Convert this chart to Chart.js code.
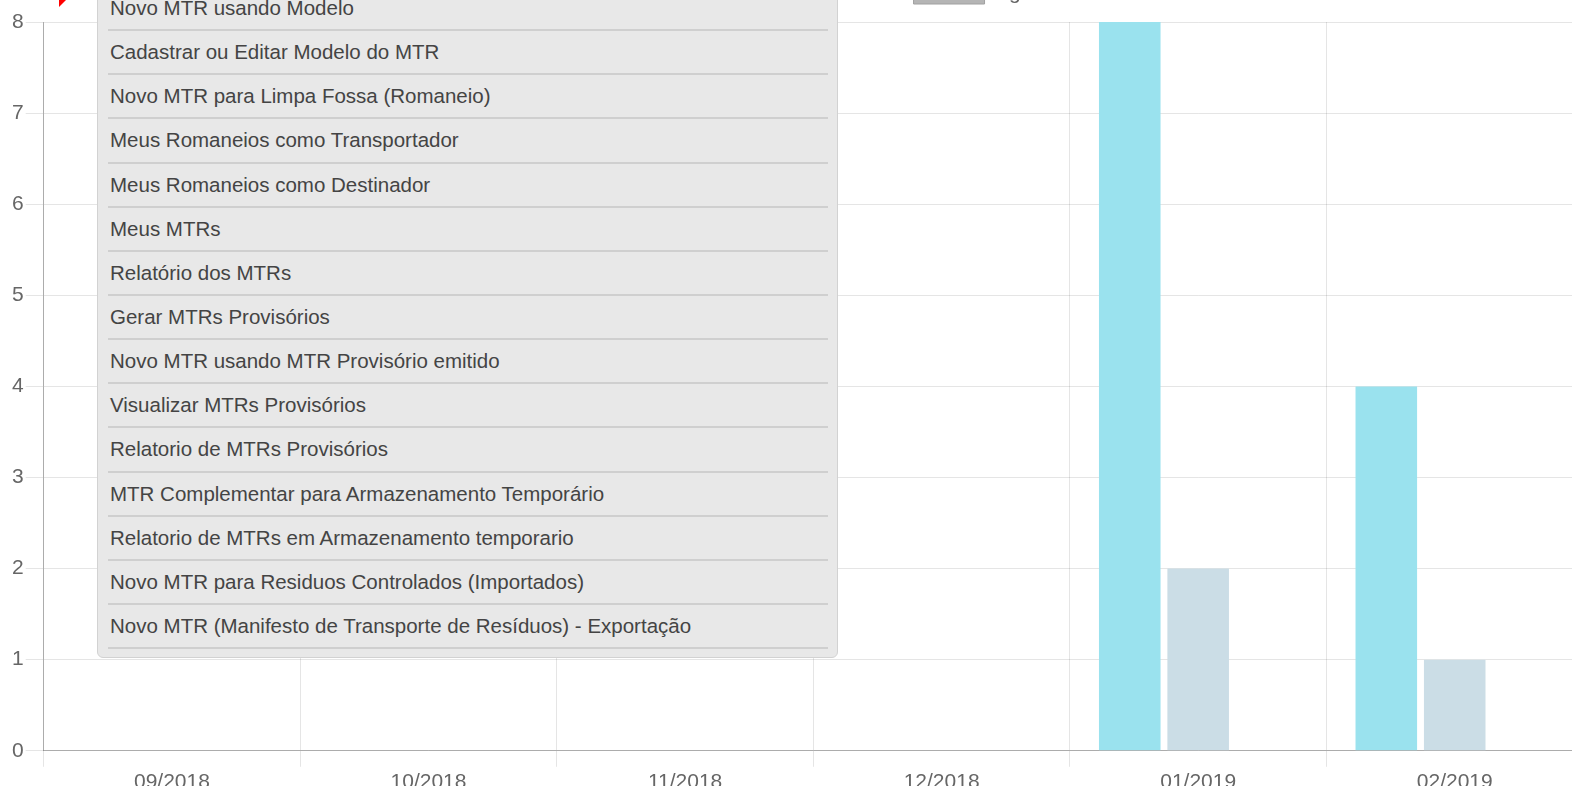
<!DOCTYPE html>
<html>
<head>
<meta charset="utf-8">
<script src="https://cdn.jsdelivr.net/npm/chart.js@4/dist/chart.umd.min.js"></script>
<style>
  html, body { margin: 0; padding: 0; background: #fff; overflow: hidden; width: 1572px; height: 786px; }
  #wrap { position: absolute; left: 0; top: -35px; width: 1600px; height: 833px; }
  #menu {
    position: absolute; left: 97px; top: -40px; width: 741px;
    background: #e8e8e8; border: 1px solid #d2d2d2; border-radius: 6px;
    box-sizing: border-box; padding: 26px 9px 8px 10px; margin: 0;
    font-family: "Liberation Sans", Arial, sans-serif; font-size: 20.5px; color: #444;
    list-style: none;
  }
  #menu li { height: 42.15px; line-height: 42px; border-bottom: 2px solid #cfcfcf; padding-left: 2px; white-space: nowrap; }
  #redmark { position: absolute; left: 59px; top: 0; width: 0; height: 0;
    border-top: 7px solid #f00; border-right: 7px solid transparent; }
</style>
</head>
<body>
<div id="wrap"><canvas id="c" width="1600" height="833"></canvas></div>
<div id="redmark"></div>
<ul id="menu"></ul>
<script>
const categories = ["09/2018", "10/2018", "11/2018", "12/2018", "01/2019", "02/2019"];
const seriesNames = ["MTRs Recebidos", "MTRs Armazenados", "Aguardando recebimento"];
const recebidos = [0, 0, 0, 0, 8, 4];
const armazenados = [0, 0, 0, 0, 2, 1];
const aguardando = [0, 0, 0, 0, 0, 0];
const yTicks = [0, 1, 2, 3, 4, 5, 6, 7, 8];
const menuItems = [
  "Novo MTR usando Modelo",
  "Cadastrar ou Editar Modelo do MTR",
  "Novo MTR para Limpa Fossa (Romaneio)",
  "Meus Romaneios como Transportador",
  "Meus Romaneios como Destinador",
  "Meus MTRs",
  "Relatório dos MTRs",
  "Gerar MTRs Provisórios",
  "Novo MTR usando MTR Provisório emitido",
  "Visualizar MTRs Provisórios",
  "Relatorio de MTRs Provisórios",
  "MTR Complementar para Armazenamento Temporário",
  "Relatorio de MTRs em Armazenamento temporario",
  "Novo MTR para Residuos Controlados (Importados)",
  "Novo MTR (Manifesto de Transporte de Resíduos) - Exportação"
];

const menu = document.getElementById('menu');
menuItems.forEach(t => { const li = document.createElement('li'); li.textContent = t; menu.appendChild(li); });

// add extra space below the legend row
try {
  const LegendCls = Chart.Legend && Chart.Legend._element;
  if (LegendCls) {
    const origFit = LegendCls.prototype.fit;
    LegendCls.prototype.fit = function () { origFit.call(this); this.height += 8; };
  }
} catch (e) {}

Chart.defaults.font.family = "'Liberation Sans', Arial, Helvetica, sans-serif";
Chart.defaults.font.size = 21;
Chart.defaults.color = '#666';

const legendBorders = [null, null, '#a0a0a0'];

new Chart(document.getElementById('c'), {
  type: 'bar',
  data: {
    labels: categories,
    datasets: [
      { label: seriesNames[0], data: recebidos, backgroundColor: '#9ae2ee', borderWidth: 0 },
      { label: seriesNames[1], data: armazenados, backgroundColor: '#cbdde6', borderWidth: 0 },
      { label: seriesNames[2], data: aguardando, backgroundColor: '#b5b5b5', borderWidth: 0 }
    ]
  },
  options: {
    responsive: false,
    animation: false,
    layout: { padding: { left: 10, right: 17, top: 0, bottom: 0 } },
    plugins: {
      legend: {
        position: 'top',
        labels: {
          boxWidth: 71, boxHeight: 21, padding: 18,
          generateLabels: (chart) => {
            const items = Chart.defaults.plugins.legend.labels.generateLabels(chart);
            items.forEach((it, i) => {
              if (legendBorders[i]) { it.strokeStyle = legendBorders[i]; it.lineWidth = 1; }
            });
            return items;
          }
        }
      },
      tooltip: { enabled: false }
    },
    datasets: { bar: { categoryPercentage: 0.8, barPercentage: 0.9 } },
    scales: {
      x: {
        grid: { color: 'rgba(0,0,0,0.1)', tickLength: 16, offset: true },
        border: { color: 'rgba(0,0,0,0.25)' },
        ticks: { padding: 3, color: '#666' }
      },
      y: {
        min: 0, max: 8,
        afterBuildTicks: s => { s.ticks = yTicks.map(v => ({ value: v })); },
        grid: { color: 'rgba(0,0,0,0.1)', tickLength: 18 },
        border: { color: 'rgba(0,0,0,0.25)' },
        ticks: { padding: 2, color: '#666' }
      }
    }
  }
});
</script>
</body>
</html>
